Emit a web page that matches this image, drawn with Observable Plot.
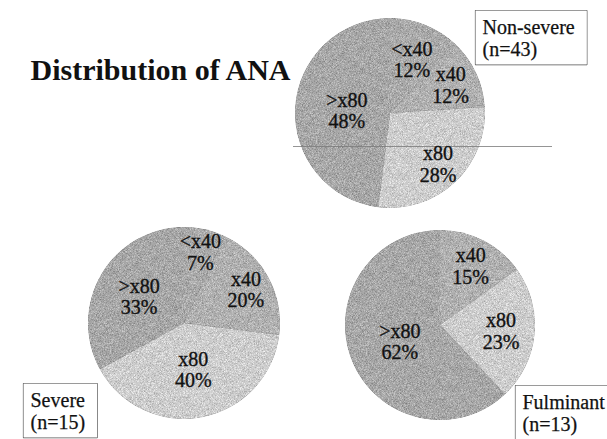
<!DOCTYPE html>
<html><head><meta charset="utf-8">
<script src="https://cdn.jsdelivr.net/npm/d3@7"></script>
<script src="https://cdn.jsdelivr.net/npm/@observablehq/plot@0.6"></script>
<style>body{margin:0;background:#fff;} svg{display:block}</style>
</head><body>
<script>
// ---- data ----
const groups = ["Non-severe", "Severe", "Fulminant"];
const groupN = [43, 15, 13];
const categories = ["<x40", "x40", "x80", ">x80"];
const nonSevere = [12, 12, 28, 48];
const severe = [7, 20, 40, 33];
const fulminant = [0, 15, 23, 62];
const title = "Distribution of ANA";

// ---- layout / style ----
const W = 607, H = 439;
const FONT = "'Liberation Serif', 'Times New Roman', serif";
const colors = ["#aaaaaa", "#b0b0b0", "#cdcdcd", "#a7a7a7"];
// label radius as a fraction of the pie radius, per category
const layout = {
  "Non-severe": {cx: 390, cy: 113, r: 95, lx: 482, ly: 37,  k: [0.61, 0.70, 0.73, 0.46]},
  "Severe":     {cx: 184, cy: 323, r: 96, lx: 30,  ly: 410, k: [0.76, 0.73, 0.49, 0.55]},
  "Fulminant":  {cx: 440, cy: 325, r: 95, lx: 522, ly: 412, k: [0.60, 0.70, 0.64, 0.46]}
};
const seriesByGroup = [nonSevere, severe, fulminant];

const slices = [];
groups.forEach((g, gi) => {
  const L = layout[g];
  const rows = categories.map((c, ci) => ({group: g, category: c, value: seriesByGroup[gi][ci], ci}));
  const arcs = d3.pie().sort(null).value(d => d.value).startAngle(0).endAngle(2 * Math.PI)(rows);
  arcs.forEach(a => {
    const mid = (a.startAngle + a.endAngle) / 2;
    const k = L.k[a.data.ci];
    slices.push({
      ...a.data,
      startAngle: a.startAngle, endAngle: a.endAngle,
      cx: L.cx, cy: L.cy, r: L.r,
      lx: L.cx + k * L.r * Math.sin(mid),
      ly: L.cy - k * L.r * Math.cos(mid)
    });
  });
});
const groupLabels = groups.map((g, i) => ({group: g, text: `${g}\n(n=${groupN[i]})`, x: layout[g].lx, y: layout[g].ly}));

function pieSlices(data, options) {
  return Plot.dot(data, {
    ...options,
    render(index, scales, values) {
      const g = d3.create("svg:g");
      for (const i of index) {
        const d = data[i];
        const rad = scales.x(d.r) - scales.x(0);
        const arc = d3.arc().innerRadius(0).outerRadius(rad).startAngle(d.startAngle).endAngle(d.endAngle);
        g.append("path")
          .attr("transform", `translate(${values.x[i]},${values.y[i]})`)
          .attr("d", arc())
          .attr("fill", values.fill[i])
          .attr("filter", "url(#grain)");
      }
      return g.node();
    }
  });
}

const chart = Plot.plot({
  width: W, height: H,
  margin: 0,
  x: {domain: [0, W], range: [0, W], axis: null},
  y: {domain: [0, H], range: [0, H], axis: null},
  color: {domain: categories, range: colors},
  style: {fontFamily: FONT, background: "#fff"},
  marks: [
    pieSlices(slices.filter(d => d.value > 0), {x: "cx", y: "cy", fill: "category"}),
    Plot.ruleY([146], {x1: 293, x2: 552, stroke: "#7a7a7a", strokeWidth: 0.8}),
    Plot.text(slices.filter(d => d.value > 0), {
      x: "lx", y: "ly", text: d => `${d.category}\n${d.value}%`,
      fontSize: 20, lineHeight: 1.08, fill: "#111", stroke: "#111", strokeWidth: 0.35, fontFamily: FONT
    }),
    Plot.text([title], {x: 30, y: 70, text: d => d, textAnchor: "start", fontSize: 30, fontWeight: "bold", fill: "#111", fontFamily: FONT}),
    Plot.text(groupLabels, {x: "x", y: "y", text: "text", textAnchor: "start", fontSize: 20, lineHeight: 1.1, fill: "#111", stroke: "#111", strokeWidth: 0.25, fontFamily: FONT, ariaDescription: "group label"})
  ]
});

// grain filter to mimic the scanned texture
const defs = d3.select(chart).insert("defs", ":first-child");
const f = defs.append("filter").attr("id", "grain").attr("x", "0").attr("y", "0").attr("width", "100%").attr("height", "100%")
  .attr("color-interpolation-filters", "sRGB");
f.append("feTurbulence").attr("type", "fractalNoise").attr("baseFrequency", 2.5).attr("numOctaves", 1).attr("seed", 5).attr("result", "noise");
f.append("feColorMatrix").attr("in", "noise").attr("type", "matrix")
  .attr("values", "1 0 0 0 0  1 0 0 0 0  1 0 0 0 0  0 0 0 0 1").attr("result", "gray");
f.append("feComposite").attr("in", "SourceGraphic").attr("in2", "gray").attr("operator", "arithmetic")
  .attr("k1", 0).attr("k2", 1).attr("k3", 0.5).attr("k4", -0.25).attr("result", "mix");
f.append("feComposite").attr("in", "mix").attr("in2", "SourceGraphic").attr("operator", "in");

document.body.append(chart);

// frame boxes around group labels
d3.select(chart).selectAll('g[aria-description="group label"] text').each(function () {
  const b = this.getBBox();
  const padL = 7, padR = 12, padT = 5, padB = 4;
  d3.select(this.parentNode).insert("rect", ":first-child")
    .attr("transform", this.getAttribute("transform"))
    .attr("x", b.x - padL).attr("y", b.y - padT)
    .attr("width", b.width + padL + padR).attr("height", b.height + padT + padB)
    .attr("fill", "#fff").attr("stroke", "#444").attr("stroke-width", 1.2);
});
</script>
</body></html>
